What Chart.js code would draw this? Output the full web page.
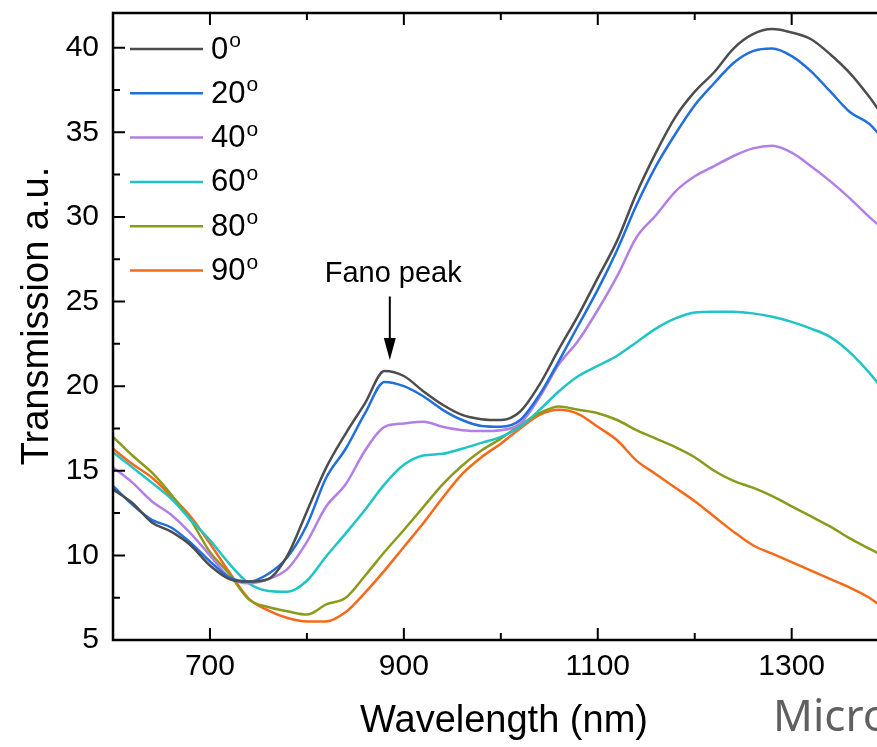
<!DOCTYPE html>
<html>
<head>
<meta charset="utf-8">
<script src="https://cdn.jsdelivr.net/npm/chart.js@4/dist/chart.umd.min.js"></script>
<style>
  html, body { margin: 0; padding: 0; background: #fff; overflow: hidden; }
  canvas { display: block; }
</style>
</head>
<body>
<canvas id="transmission-chart" width="877" height="747"></canvas>
<script>
// Wavelength grid (nm)
const wavelengths = [600, 620, 640, 660, 680, 700, 720, 740, 760, 780, 800, 820, 840, 860, 880, 900, 920, 940, 960, 980,
    1000, 1020, 1040, 1060, 1080, 1100, 1120, 1140, 1160, 1180, 1200, 1220, 1240, 1260, 1280, 1300, 1320, 1340, 1360, 1380, 1390];

// Transmission per polarisation angle
const trans0 = [13.9, 13.1, 11.95, 11.4, 10.6, 9.4, 8.6, 8.45, 8.6, 10.0, 12.6, 15.2, 17.2, 19.0, 20.9, 20.6, 19.7, 18.9, 18.3, 18.05,
    18.0, 18.5, 20.1, 22.2, 24.2, 26.4, 28.6, 31.4, 33.8, 35.9, 37.4, 38.55, 39.95, 40.8, 41.1, 40.9, 40.5, 39.6, 38.5, 37.1, 36.3];
const trans20 = [14.1, 13.0, 12.1, 11.65, 10.75, 9.65, 8.7, 8.45, 8.9, 9.9, 11.8, 14.6, 16.3, 18.4, 20.25, 20.0, 19.4, 18.6, 18.0, 17.65,
    17.6, 18.0, 19.5, 21.5, 23.6, 25.7, 28.05, 30.7, 33.0, 34.9, 36.6, 37.9, 39.1, 39.8, 39.95, 39.5, 38.6, 37.4, 36.2, 35.5, 34.9];
const trans40 = [15.2, 14.3, 13.2, 12.4, 11.3, 10.0, 8.7, 8.35, 8.6, 9.2, 10.8, 12.9, 14.2, 16.2, 17.6, 17.8, 17.9, 17.6, 17.4, 17.35,
    17.4, 17.8, 19.35, 21.3, 22.7, 24.5, 26.5, 28.8, 30.1, 31.5, 32.4, 33.0, 33.6, 34.05, 34.2, 33.8, 33.0, 32.1, 31.1, 30.0, 29.5];
const trans60 = [16.1, 15.2, 14.3, 13.35, 12.1, 10.9, 9.5, 8.35, 7.9, 7.85, 8.5, 9.95, 11.3, 12.7, 14.2, 15.35, 15.9, 16.0, 16.3, 16.65,
    17.0, 17.6, 18.6, 19.7, 20.6, 21.2, 21.8, 22.6, 23.4, 24.0, 24.35, 24.4, 24.4, 24.3, 24.1, 23.8, 23.4, 22.9, 22.0, 20.8, 20.1];
const trans80 = [17.0, 15.9, 14.9, 13.6, 12.1, 10.2, 8.9, 7.4, 6.95, 6.7, 6.5, 7.1, 7.5, 8.8, 10.2, 11.5, 12.85, 14.2, 15.3, 16.2,
    16.9, 17.7, 18.4, 18.8, 18.6, 18.4, 18.0, 17.4, 16.9, 16.4, 15.8, 15.0, 14.4, 14.0, 13.5, 12.9, 12.3, 11.7, 11.0, 10.4, 10.1];
const trans90 = [16.3, 15.4, 14.6, 13.5, 12.3, 10.7, 9.0, 7.45, 6.75, 6.3, 6.1, 6.1, 6.65, 7.8, 9.1, 10.5, 11.9, 13.4, 14.8, 15.8,
    16.6, 17.5, 18.3, 18.6, 18.35, 17.6, 16.8, 15.6, 14.8, 14.0, 13.2, 12.3, 11.4, 10.6, 10.1, 9.6, 9.1, 8.6, 8.1, 7.5, 7.1];

const angleLabels = ['0', '20', '40', '60', '80', '90'];
const seriesColors = ['#4d4d4d', '#1f6fdc', '#b27fe6', '#1fc4c4', '#8c9a1c', '#f56a1a'];
const allSeries = [trans0, trans20, trans40, trans60, trans80, trans90];

const FONT = "'Liberation Sans', Arial, sans-serif";

function toPoints(values) {
    return wavelengths.map((w, i) => ({ x: w, y: values[i] }));
}

// axes frame, inward ticks, legend and labels
const decorPlugin = {
    id: 'decor',
    afterDraw(chart) {
        const ctx = chart.ctx;
        const area = chart.chartArea;
        const xs = chart.scales.x;
        const ys = chart.scales.y;
        ctx.save();
        ctx.strokeStyle = '#000';
        ctx.fillStyle = '#000';

        // frame
        ctx.lineWidth = 2.5;
        ctx.beginPath();
        ctx.moveTo(chart.width, area.top);
        ctx.lineTo(area.left, area.top);
        ctx.lineTo(area.left, area.bottom);
        ctx.lineTo(chart.width, area.bottom);
        ctx.stroke();

        // ticks
        ctx.lineWidth = 2;
        ctx.beginPath();
        xs.ticks.forEach(t => {
            if (t.value % 100 !== 0 || t.value === 600) return;
            const len = t.value % 200 === 100 ? 12 : 7;
            const px = xs.getPixelForValue(t.value);
            ctx.moveTo(px, area.bottom);
            ctx.lineTo(px, area.bottom - len);
            ctx.moveTo(px, area.top);
            ctx.lineTo(px, area.top + len);
        });
        ys.ticks.forEach(t => {
            if (t.value % 2.5 !== 0 || t.value === 5) return;
            const len = t.value % 5 === 0 ? 12 : 7;
            const py = ys.getPixelForValue(t.value);
            ctx.moveTo(area.left, py);
            ctx.lineTo(area.left + len, py);
        });
        ctx.stroke();

        // legend
        angleLabels.forEach((lab, i) => {
            const y = 49 + i * 44.3;
            ctx.strokeStyle = seriesColors[i];
            ctx.lineWidth = 2.5;
            ctx.beginPath();
            ctx.moveTo(130, y);
            ctx.lineTo(203, y);
            ctx.stroke();
            ctx.fillStyle = '#000';
            ctx.font = '31px ' + FONT;
            ctx.textAlign = 'left';
            ctx.textBaseline = 'middle';
            ctx.fillText(lab, 211, y + 1);
            const w = ctx.measureText(lab).width;
            ctx.font = '21px ' + FONT;
            ctx.textBaseline = 'alphabetic';
            ctx.fillText('o', 211 + w + 1, y - 2);
        });

        // Fano peak annotation
        const ax = xs.getPixelForValue(885.5);
        const tip = ys.getPixelForValue(21.55);
        const tail = ys.getPixelForValue(25.3);
        ctx.fillStyle = '#000';
        ctx.strokeStyle = '#000';
        ctx.lineWidth = 2;
        ctx.beginPath();
        ctx.moveTo(ax, tail);
        ctx.lineTo(ax, tip - 16);
        ctx.stroke();
        ctx.beginPath();
        ctx.moveTo(ax - 6, tip - 22);
        ctx.lineTo(ax + 6, tip - 22);
        ctx.lineTo(ax, tip);
        ctx.closePath();
        ctx.fill();
        ctx.font = '29px ' + FONT;
        ctx.textAlign = 'center';
        ctx.textBaseline = 'alphabetic';
        ctx.fillText('Fano peak', xs.getPixelForValue(889), ys.getPixelForValue(26.15));

        // axis titles
        ctx.font = '38px ' + FONT;
        ctx.textAlign = 'center';
        ctx.textBaseline = 'middle';
        ctx.fillText('Wavelength (nm)', 504, 722);
        ctx.save();
        ctx.translate(38, 316);
        ctx.rotate(-Math.PI / 2);
        ctx.fillText('Transmission a.u.', 0, 0);
        ctx.restore();

        // neighbouring panel text, cut by the frame edge
        ctx.font = "44px 'Noto Sans', sans-serif";
        ctx.fillStyle = '#606060';
        ctx.textAlign = 'left';
        ctx.textBaseline = 'alphabetic';
        ctx.fillText('Micro', 773, 731);

        ctx.restore();
    }
};

const ctx = document.getElementById('transmission-chart').getContext('2d');

new Chart(ctx, {
    type: 'line',
    data: {
        datasets: allSeries.map((vals, i) => ({
            label: angleLabels[i] + '°',
            data: toPoints(vals),
            borderColor: seriesColors[i],
            borderWidth: 2.5,
            pointRadius: 0,
            fill: false,
            cubicInterpolationMode: 'monotone'
        }))
    },
    options: {
        responsive: false,
        animation: false,
        layout: { padding: { top: 13, right: 0, left: 0, bottom: 0 } },
        plugins: {
            legend: { display: false },
            tooltip: { enabled: false }
        },
        scales: {
            x: {
                type: 'linear',
                min: 600,
                max: 1388,
                border: { display: false },
                grid: { display: false, drawTicks: false },
                ticks: {
                    stepSize: 100,
                    includeBounds: false,
                    autoSkip: false,
                    maxRotation: 0,
                    padding: 9,
                    color: '#000',
                    font: { family: FONT, size: 30 },
                    callback: v => (v % 200 === 100 ? String(v) : '')
                },
                afterFit: s => { s.height = 107; s.paddingLeft = 0; s.paddingRight = 0; }
            },
            y: {
                type: 'linear',
                min: 5,
                max: 42.05,
                border: { display: false },
                grid: { display: false, drawTicks: false },
                ticks: {
                    stepSize: 2.5,
                    includeBounds: false,
                    autoSkip: false,
                    padding: 14,
                    color: '#000',
                    font: { family: FONT, size: 30 },
                    callback: v => (v % 5 === 0 ? String(v) : '')
                },
                afterFit: s => { s.width = 113; s.paddingTop = 0; s.paddingBottom = 0; }
            }
        }
    },
    plugins: [decorPlugin]
});
</script>
</body>
</html>
